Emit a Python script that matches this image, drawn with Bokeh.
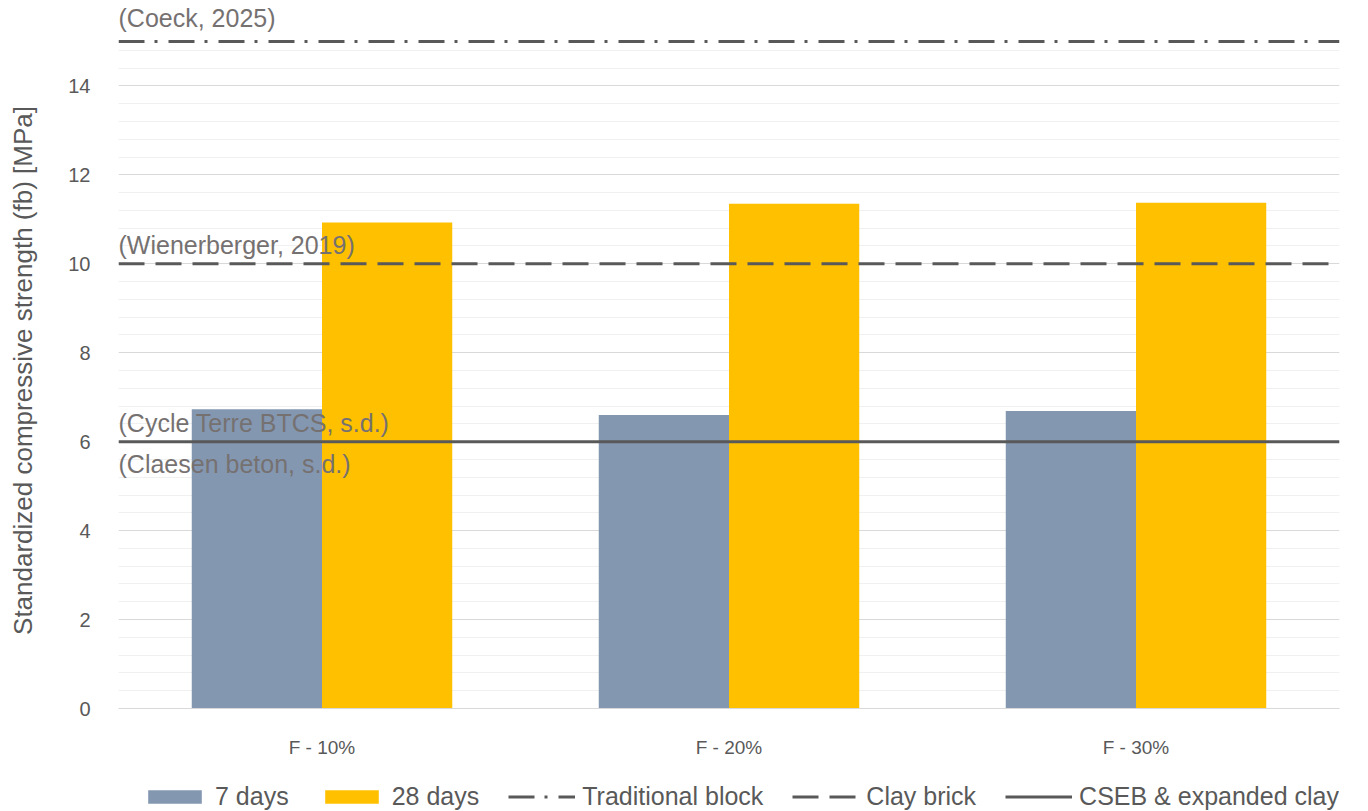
from bokeh.plotting import figure
from bokeh.models import Range1d, SingleIntervalTicker, FixedTicker, Legend, LegendItem, Label, Title
from bokeh.layouts import column
from bokeh.embed import file_html
from bokeh.resources import INLINE

categories = ["F - 10%", "F - 20%", "F - 30%"]
days7 = [6.73, 6.60, 6.69]
days28 = [10.93, 11.35, 11.37]
ref_names = ["Traditional block", "Clay brick", "CSEB & expanded clay"]
ref_values = [15, 10, 6]
ann_texts = ["(Wienerberger, 2019)", "(Cycle Terre BTCS, s.d.)", "(Claesen beton, s.d.)"]
ann_values = [10, 6, 6]
ann_above = [True, True, False]
top_source = "(Coeck, 2025)"

BLUE = "#8497b0"
GOLD = "#ffc000"
DARK = "#595959"
TXT = "#767171"
FONT = "Liberation Sans"
NAN = float("nan")

p = figure(width=1368, height=760, output_backend="svg", toolbar_location=None,
           x_range=Range1d(0, 3), y_range=Range1d(0, 15.2))
p.min_border_left = 118
p.min_border_right = 29
p.min_border_top = 32
p.min_border_bottom = 51
p.outline_line_color = None
p.background_fill_color = "white"
p.border_fill_color = "white"

p.add_layout(Title(text=top_source, align="left", text_font=FONT, text_font_size="25px",
                   text_font_style="normal", text_color=TXT, standoff=1, offset=0), "above")

centers = [i + 0.5 for i in range(len(categories))]
bw = 0.32
p.vbar(x=[c - bw / 2 for c in centers], top=days7, width=bw, fill_color=BLUE, line_color=None)
p.vbar(x=[c + bw / 2 for c in centers], top=days28, width=bw, fill_color=GOLD, line_color=None)

dashes = ["26 10 3 11", "26 11", "solid"]
for name, v, d in zip(ref_names, ref_values, dashes):
    p.line(x=[0, 3], y=[v, v], line_color=DARK, line_width=3, line_dash=d)

for t, v, above in zip(ann_texts, ann_values, ann_above):
    p.add_layout(Label(x=0, y=v, text=t, text_font=FONT, text_font_size="25px",
                       text_color=TXT, text_baseline="bottom" if above else "top",
                       y_offset=5 if above else -8))

# axes
p.yaxis.ticker = SingleIntervalTicker(interval=2, num_minor_ticks=5)
p.yaxis.axis_line_color = None
p.yaxis.major_tick_line_color = None
p.yaxis.minor_tick_line_color = None
p.yaxis.major_label_text_font = FONT
p.yaxis.major_label_text_font_size = "20px"
p.yaxis.major_label_text_color = DARK
p.yaxis.major_label_standoff = 22
p.yaxis.axis_label = "Standardized compressive strength (fb) [MPa]"
p.yaxis.axis_label_text_font = FONT
p.yaxis.axis_label_text_font_size = "26px"
p.yaxis.axis_label_text_font_style = "normal"
p.yaxis.axis_label_text_color = DARK
p.yaxis.axis_label_standoff = 27

p.xaxis.ticker = FixedTicker(ticks=centers)
p.xaxis.major_label_overrides = {c: cat for c, cat in zip(centers, categories)}
p.xaxis.axis_line_color = "#d9d9d9"
p.xaxis.axis_line_width = 1
p.xaxis.major_tick_line_color = None
p.xaxis.minor_tick_line_color = None
p.xaxis.major_label_text_font = FONT
p.xaxis.major_label_text_font_size = "19px"
p.xaxis.major_label_text_color = DARK
p.xaxis.major_label_standoff = 22

p.xgrid.grid_line_color = None
p.ygrid.grid_line_color = "#d9d9d9"
p.ygrid.grid_line_width = 1
p.ygrid.minor_grid_line_color = "#f0f0f0"
p.ygrid.minor_grid_line_width = 1
p.ygrid.level = "underlay"

# legend strip (proxy glyphs carry no drawable data)
q = figure(width=1368, height=51, output_backend="svg", toolbar_location=None,
           x_range=Range1d(0, 1), y_range=Range1d(0, 1),
           x_axis_location=None, y_axis_location=None)
q.min_border_left = 0
q.min_border_right = 0
q.min_border_top = 0
q.min_border_bottom = 0
q.outline_line_color = None
q.grid.visible = False
q.border_fill_color = "white"
l7 = q.vbar(x=[NAN], top=[NAN], width=0.1, fill_color=BLUE, line_color=None)
l28 = q.vbar(x=[NAN], top=[NAN], width=0.1, fill_color=GOLD, line_color=None)
items = [LegendItem(label="7 days", renderers=[l7]),
         LegendItem(label="28 days", renderers=[l28])]
for name, d in zip(ref_names, dashes):
    lr = q.line(x=[NAN, NAN], y=[NAN, NAN], line_color=DARK, line_width=3, line_dash=d)
    items.append(LegendItem(label=name, renderers=[lr]))
legend = Legend(items=items, orientation="horizontal", location=(23, 0),
                label_text_font=FONT, label_text_font_size="25px",
                label_text_color=DARK, glyph_width=67, glyph_height=17,
                label_standoff=7, spacing=29, padding=0, margin=0,
                border_line_color=None, background_fill_alpha=0)
q.add_layout(legend, "center")

layout = column(p, q, spacing=0)
open("out.html", "w").write(file_html(layout, INLINE))
